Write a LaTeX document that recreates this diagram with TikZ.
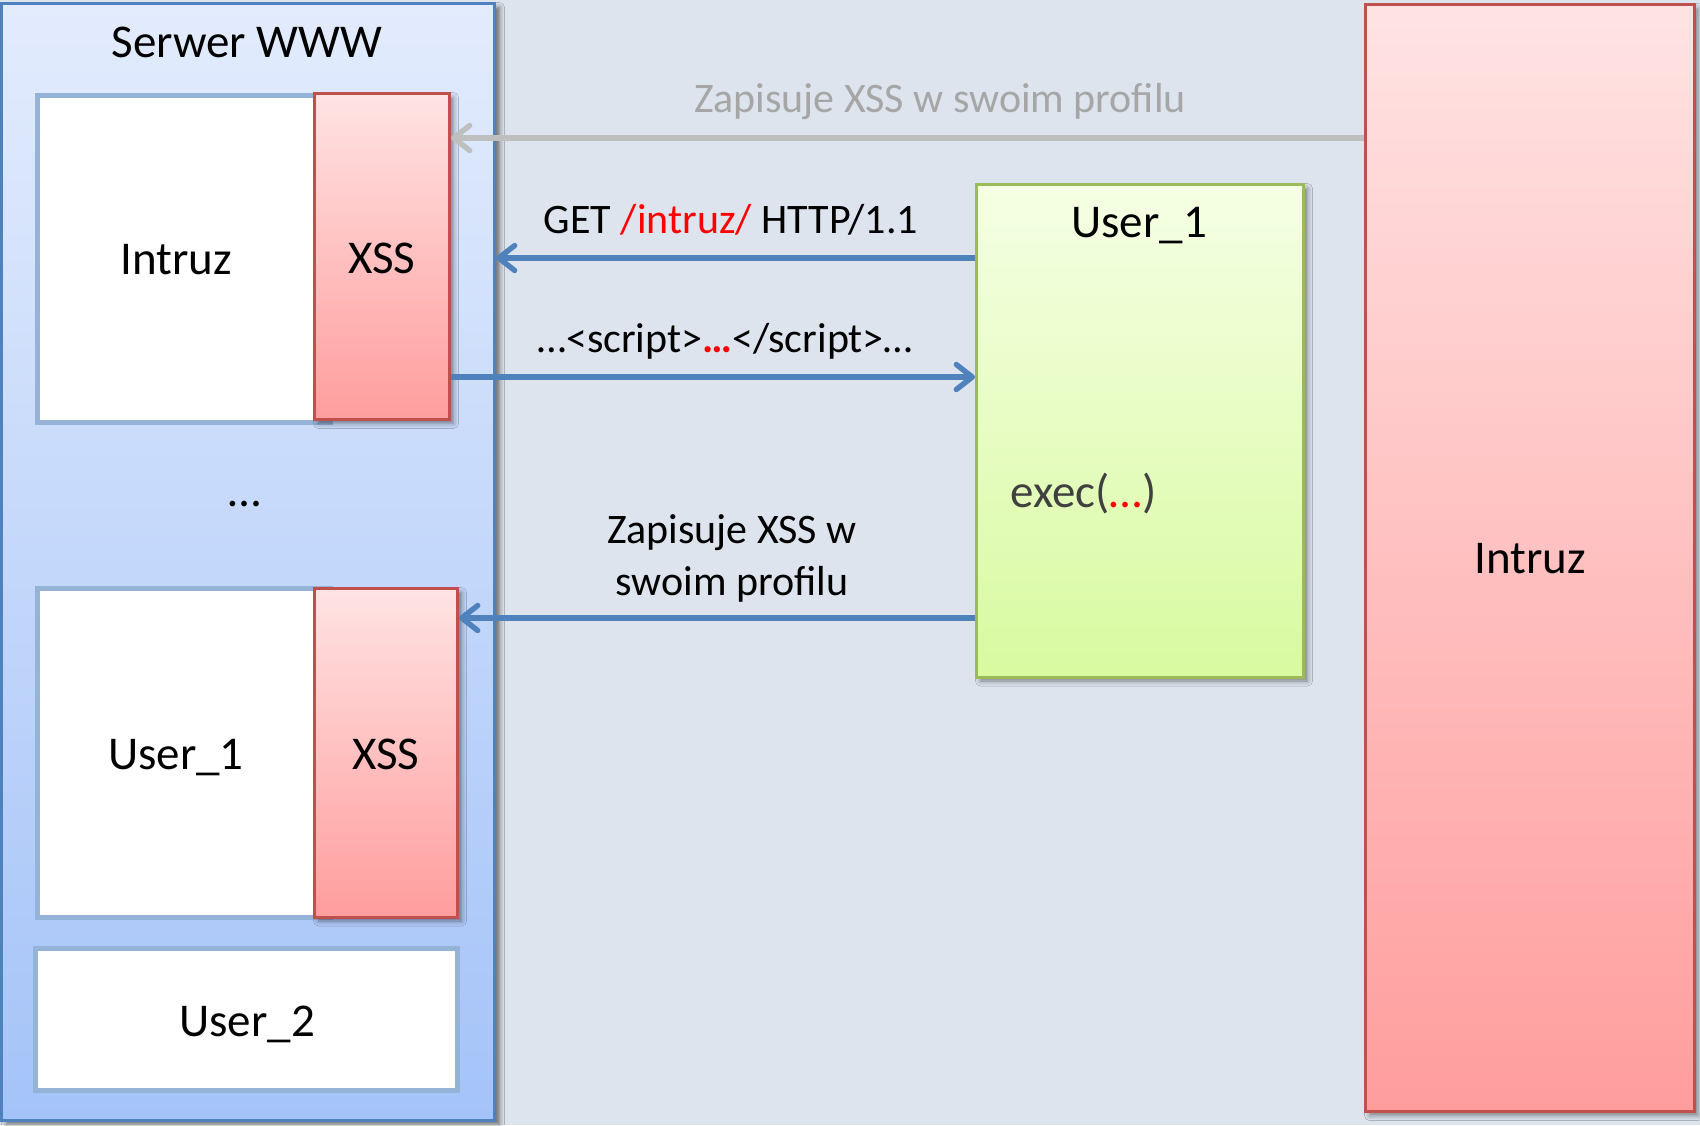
\documentclass[tikz,border=0pt]{standalone}
\usepackage{fontspec}
\setmainfont{Carlito}
\usetikzlibrary{arrows.meta,fit,shadows.blur}

\definecolor{bgcol}{RGB}{221,228,237}
\definecolor{srvtop}{RGB}{227,236,253}
\definecolor{srvbot}{RGB}{164,195,248}
\definecolor{srvline}{RGB}{79,129,189}
\definecolor{pageline}{RGB}{149,179,215}
\definecolor{xsstop}{RGB}{255,227,227}
\definecolor{xssbot}{RGB}{255,157,157}
\definecolor{xssline}{RGB}{192,80,77}
\definecolor{cltop}{RGB}{245,255,228}
\definecolor{clbot}{RGB}{216,250,160}
\definecolor{clline}{RGB}{155,187,89}
\definecolor{flowblue}{RGB}{79,129,189}
\definecolor{flowgray}{RGB}{191,191,191}
\definecolor{graytext}{RGB}{166,166,166}
\definecolor{darktext}{RGB}{64,64,64}

\begin{document}
\begin{tikzpicture}[x=0.5pt,y=-0.5pt,
  box/.style={rectangle, inner sep=0pt, line width=1.5pt},
  soft/.style={blur shadow={shadow xshift=2pt, shadow yshift=-2pt,
      shadow blur radius=2.5pt, shadow opacity=45}},
  serverbox/.style={box, draw=srvline, top color=srvtop, bottom color=srvbot,
      blur shadow={shadow xshift=2.5pt, shadow yshift=-2pt,
      shadow blur radius=2.5pt, shadow opacity=55}},
  pagebox/.style={box, draw=pageline, line width=2.5pt, fill=white},
  xssbox/.style={box, draw=xssline, top color=xsstop, bottom color=xssbot, soft},
  clientbox/.style={box, draw=clline, top color=cltop, bottom color=clbot, soft},
  big/.style={font=\fontsize{23.5}{28}\selectfont, anchor=base, inner sep=0pt},
  small/.style={font=\fontsize{21}{26}\selectfont, anchor=base, inner sep=0pt},
  flow/.style={draw=flowblue, line width=2.7pt,
      -{Straight Barb[length=8pt,width=12.5pt,line cap=round,line join=round]}},
  flowg/.style={flow, draw=flowgray}]

\useasboundingbox (0,0) rectangle (1700,1125);
\fill[bgcol] (0,0) rectangle (1700,1125);

% web server with its stored profiles
\node[serverbox, fit={(1.5,3.5)(494.5,1120)}] (server) {};
\node[big] (tserver) at (247,57) {Serwer WWW};

\node[pagebox, fit={(37.5,95.5)(330,422.5)}] (pintruz) {};
\node[xssbox, fit={(314.5,93.5)(449.5,419.5)}] (xss1) {};
\node[big] (tpintruz) at (176,274) {Intruz};
\node[big] (txss1) at (382,273) {XSS};

\node[big] (tdots) at (245,506) {…};

\node[pagebox, fit={(37.5,588)(330,917.5)}] (puser1) {};
\node[xssbox, fit={(314.5,588.5)(457.5,917)}] (xss2) {};
\node[big] (tpuser1) at (176,769) {User\_1};
\node[big] (txss2) at (386,769) {XSS};

\node[pagebox, fit={(35.5,948)(457.5,1090)}] (puser2) {};
\node[big] (tpuser2) at (247,1036) {User\_2};

% victim's browser
\node[clientbox, fit={(976.5,184.5)(1303.5,677)}] (client) {};
\node[big] (tclient) at (1139,237) {User\_1};
\node[big, anchor=base west, text=darktext] (texec) at (1010,507) {exec(\textcolor{red}{…})};

% attacker
\node[xssbox, fit={(1365.5,4.5)(1694,1111.5)}] (attacker) {};
\node[big] (tattacker) at (1530,573) {Intruz};

% messages
\draw[flowg] (attacker.west |- 0,138) -- (xss1.east |- 0,138);
\node[small, text=graytext] (lstore1) at (940,112) {Zapisuje XSS w swoim profilu};

\draw[flow] (client.west |- 0,258) -- (server.east |- 0,258);
\node[small] (lget) at (731,233) {GET \textcolor{red}{/intruz/} HTTP/1.1};

\draw[flow] (xss1.east |- 0,377) -- (client.west |- 0,377);
\node[small] (lscript) at (725,352) {…<script>\textcolor{red}{\bfseries …}</script>…};

\draw[flow] (client.west |- 0,618) -- (xss2.east |- 0,618);
\node[small] (lstore2a) at (732,543) {Zapisuje XSS w};
\node[small] (lstore2b) at (732,595) {swoim profilu};
\end{tikzpicture}
\end{document}
